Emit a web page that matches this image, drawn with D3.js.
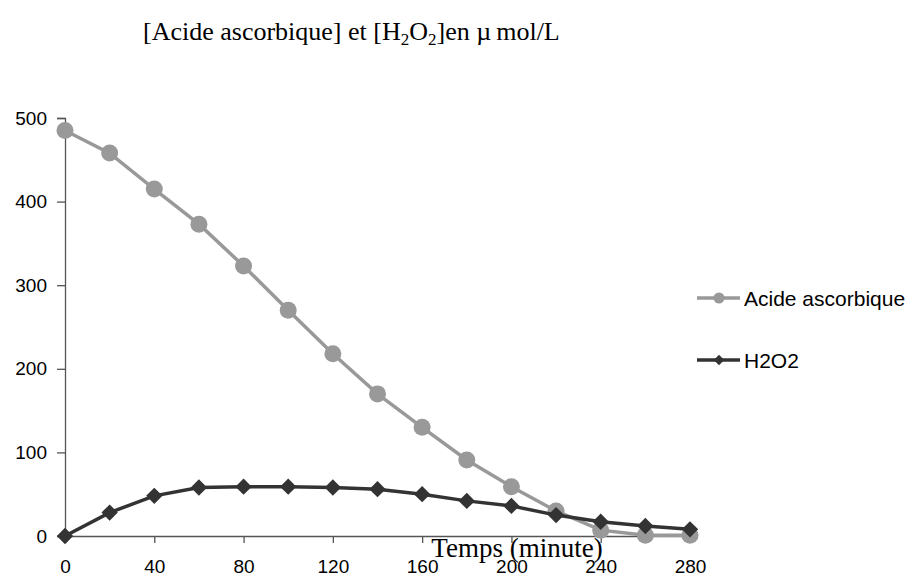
<!DOCTYPE html>
<html><head><meta charset="utf-8">
<script src="https://cdn.jsdelivr.net/npm/d3@7"></script>
<style>body{margin:0;background:#fff}</style>
</head><body>
<script>
const times = [0,20,40,60,80,100,120,140,160,180,200,220,240,260,280];
const acide = [485,458,415,373,323,270,218,170,130,91,59,30,7,1,1];
const h2o2 = [0,28,48,58,59,59,58,56,50,42,36,25,17,12,8];
const xTicks = [0,40,80,120,160,200,240,280];
const yTicks = [0,100,200,300,400,500];
const seriesNames = ["Acide ascorbique","H2O2"];

const W=912,H=577;
const svg=d3.select("body").append("svg").attr("width",W).attr("height",H);
const x=d3.scaleLinear().domain([0,280]).range([65,690]);
const y=d3.scaleLinear().domain([0,500]).range([536,118]);

const sans="'Liberation Sans', Arial, Helvetica, sans-serif";
const serif="'Liberation Serif', 'Times New Roman', serif";

// title
const t=svg.append("text").attr("x",143).attr("y",40).attr("font-family",serif).attr("font-size",26).attr("fill","#000");
t.append("tspan").text("[Acide ascorbique] et [H");
t.append("tspan").attr("font-size",17).attr("dy",5).text("2");
t.append("tspan").attr("dy",-5).text("O");
t.append("tspan").attr("font-size",17).attr("dy",5).text("2");
t.append("tspan").attr("dy",-5).text("]en \u00b5");
t.append("tspan").attr("dx",5).text("mol/L");

// axes
const ya=svg.append("g").attr("transform","translate(65,0)")
  .call(d3.axisLeft(y).tickValues(yTicks).tickSize(8).tickPadding(10));
const xa=svg.append("g").attr("transform","translate(0,536)")
  .call(d3.axisBottom(x).tickValues(xTicks).tickSize(7).tickPadding(17));
[ya,xa].forEach(a=>{
  a.selectAll("path").attr("stroke","#555").attr("stroke-width",1.3);
  a.selectAll("line").attr("stroke","#555").attr("stroke-width",1.3);
  a.selectAll("text").attr("font-family",sans).attr("font-size",19).attr("fill","#000");
});

// x title
svg.append("text").attr("x",517).attr("y",557).attr("text-anchor","middle")
  .attr("font-family",serif).attr("font-size",27).attr("fill","#000").text("Temps (minute)");

const line=d3.line().x((d,i)=>x(times[i])).y(d=>y(d));
const cA="#999999", cH="#333333";

svg.append("path").datum(acide).attr("d",line).attr("fill","none").attr("stroke",cA).attr("stroke-width",3.5);
svg.append("g").selectAll("circle").data(acide).join("circle")
  .attr("cx",(d,i)=>x(times[i])).attr("cy",d=>y(d)).attr("r",8.5).attr("fill",cA);

svg.append("path").datum(h2o2).attr("d",line).attr("fill","none").attr("stroke",cH).attr("stroke-width",3.5);
const diamond=d3.symbol().type(d3.symbolDiamond2).size(170);
svg.append("g").selectAll("path").data(h2o2).join("path")
  .attr("d",diamond).attr("transform",(d,i)=>`translate(${x(times[i])},${y(d)})`).attr("fill",cH);

// legend
const leg=[{n:seriesNames[0],c:cA,y:298,t:"c"},{n:seriesNames[1],c:cH,y:360,t:"d"}];
leg.forEach(l=>{
  svg.append("line").attr("x1",697).attr("x2",740).attr("y1",l.y).attr("y2",l.y).attr("stroke",l.c).attr("stroke-width",3.5);
  if(l.t==="c") svg.append("circle").attr("cx",719).attr("cy",l.y).attr("r",5.5).attr("fill",l.c);
  else svg.append("path").attr("d",d3.symbol().type(d3.symbolDiamond2).size(70)).attr("transform",`translate(719,${l.y})`).attr("fill",l.c);
  svg.append("text").attr("x",744).attr("y",l.y+8).attr("font-family",sans).attr("font-size",21).attr("fill","#000").text(l.n);
});
</script>
</body></html>
